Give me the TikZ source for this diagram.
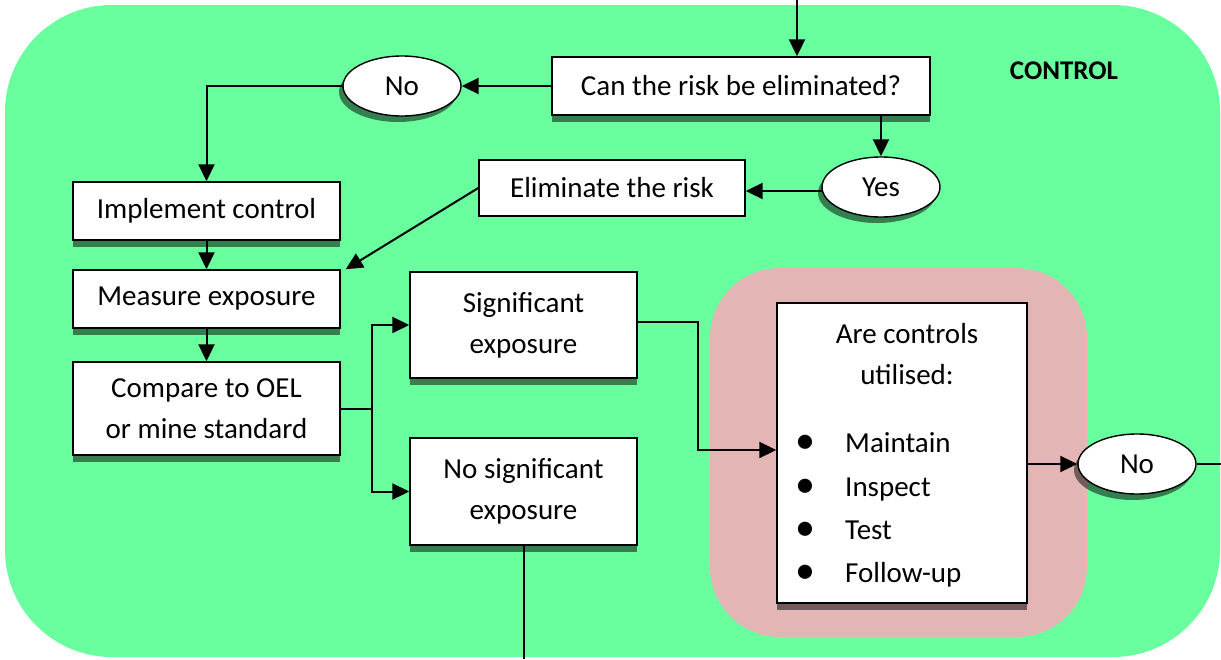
\documentclass[tikz,border=0pt]{standalone}
\usepackage{fontspec}
\setmainfont{Carlito}
\usetikzlibrary{shapes.geometric,shadows,arrows.meta,calc}

\definecolor{zonegreen}{HTML}{6AFF9E}
\definecolor{zonepink}{HTML}{E3B5B5}

\tikzset{
  basebox/.style={draw=black, line width=1.4pt, fill=white, inner sep=0pt,
    align=center, font=\fontsize{29}{41}\selectfont},
  stepbox/.style={basebox,
    drop shadow={shadow xshift=0pt, shadow yshift=-7pt, fill=black, opacity=.5}},
  plainbox/.style={basebox},
  answer/.style={basebox, ellipse, minimum width=118pt, minimum height=60pt,
    drop shadow={shadow xshift=-4pt, shadow yshift=-6pt, fill=black, opacity=.5}},
  flow/.style={line width=2pt, -{Triangle[length=17pt,width=16pt]}},
  link/.style={line width=2pt},
  itemtext/.style={font=\fontsize{29}{41}\selectfont, inner sep=0pt},
  bulletmark/.style={font=\fontsize{40}{41}\selectfont, inner sep=0pt},
}

\begin{document}
\begin{tikzpicture}[x=1pt, y=-1pt]
\useasboundingbox (0,0) rectangle (1221,659);

% control zone and the inner zone around the utilisation check
\fill[zonegreen, rounded corners=107pt] (5,5) rectangle (1220,657);
\fill[zonepink, rounded corners=70pt] (710,268) rectangle (1087,637);

\node[font=\fontsize{27}{32}\selectfont\bfseries] (title) at (1064,71) {CONTROL};

% decision and action boxes
\node[stepbox, minimum width=378pt, minimum height=58pt] (canrisk) at (741,86) {Can the risk be eliminated?};
\node[answer] (noA) at (402,86) {No};
\node[answer] (yes) at (881,187) {Yes};
\node[plainbox, minimum width=266pt, minimum height=56pt] (elim) at (612,188) {Eliminate the risk};
\node[stepbox, minimum width=267pt, minimum height=58pt] (implement) at (206.5,211) {Implement control};
\node[stepbox, minimum width=267pt, minimum height=58pt] (measure) at (206.5,299) {Measure exposure};
\node[stepbox, minimum width=267pt, minimum height=93pt] (compare) at (206.5,408.5) {Compare to OEL\\or mine standard};
\node[stepbox, minimum width=227pt, minimum height=106pt] (sig) at (523.5,325) {Significant\\exposure};
\node[stepbox, minimum width=227pt, minimum height=107pt] (nosig) at (523.5,491.5) {No significant\\exposure};
\node[stepbox, minimum width=250pt, minimum height=300pt] (controls) at (902,453) {};
\node[answer] (noB) at (1137,464) {No};

% contents of the utilisation check
\node[itemtext, align=center] (ctitle) at (907,354) {Are controls\\utilised:};
\foreach \name/\txt/\yy in {maint/Maintain/452, insp/Inspect/496, test/Test/539, foll/Follow-up/582}{
  \node[bulletmark, anchor=base] (b\name) at (805,\yy+1) {•};
  \node[itemtext, anchor=base west] (\name) at (845,\yy) {\txt};
}

% free ends leaving the zone
\coordinate (entry) at (797,0);
\coordinate (split) at (372,409);
\coordinate (nosigout) at (523.5,659);
\coordinate (noBout) at (1221,464);

% connectors
\draw[flow] (entry) -- (entry |- canrisk.north);
\draw[flow] (canrisk.west) -- (noA.east);
\draw[flow] (noA.west) -| (implement.north);
\draw[flow] (yes.north |- canrisk.south) -- (yes.north);
\draw[flow] ($(yes.west)+(0.5,4)$) -- ($(elim.east)+(0,3)$);
\draw[flow] (elim.west) -- ($(measure.north east)+(5,0)$);
\draw[flow] (implement.south) -- (measure.north);
\draw[flow] (measure.south) -- (compare.north);
\draw[link] (compare.east |- split) -- (split);
\draw[flow] (split) |- (sig.west);
\draw[flow] (split) |- (nosig.west);
\draw[link] (nosig.south) -- (nosigout);
\draw[flow] ($(sig.east)+(0,-3)$) -- ++(60,0) |- ($(controls.west)+(0,-3)$);
\draw[flow] (noB.west -| controls.east) -- (noB.west);
\draw[link] (noB.east) -- (noBout);
\end{tikzpicture}
\end{document}
